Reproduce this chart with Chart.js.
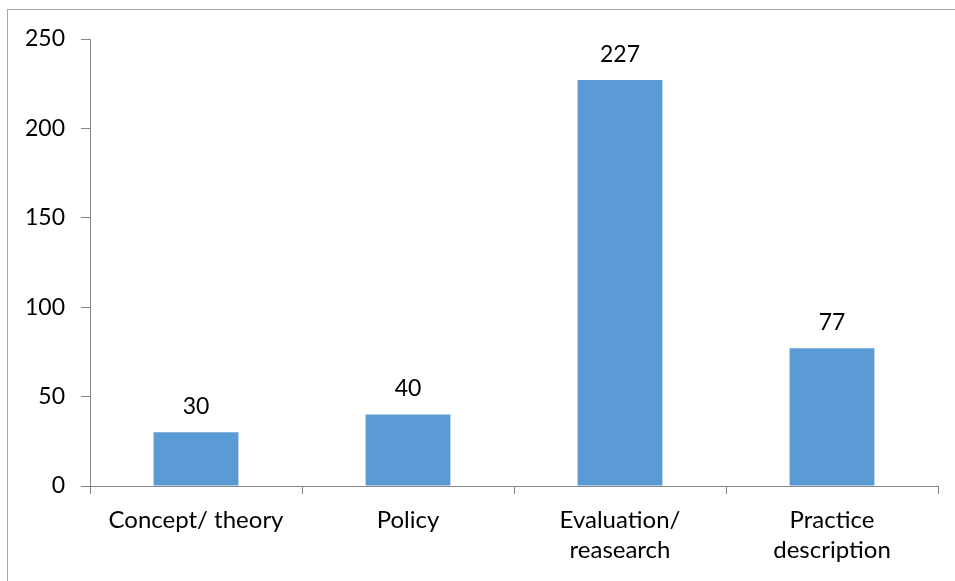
<!DOCTYPE html>
<html>
<head>
<meta charset="utf-8">
<script src="https://cdn.jsdelivr.net/npm/chart.js@4/dist/chart.umd.min.js"></script>
<style>
  html, body { margin: 0; padding: 0; background: #fff; overflow: hidden; }
  #wrap { position: relative; width: 955px; height: 581px; }
  #frame { position: absolute; left: 7px; top: 9px; width: 1000px; height: 700px; border: 1.5px solid #a6a6a6; box-sizing: border-box; pointer-events: none; }
  canvas { position: absolute; left: 0; top: 0; }
</style>
</head>
<body>
<div id="wrap">
  <div id="frame"></div>
  <canvas id="c" width="955" height="581"></canvas>
</div>
<script>
const categories = [["Concept/ theory"], ["Policy"], ["Evaluation/", "reasearch"], ["Practice", "description"]];
const values = [30, 40, 227, 77];
const yTicks = [0, 50, 100, 150, 200, 250];

const FONT = "Lato, 'Open Sans', sans-serif";

const valueLabels = {
  id: 'valueLabels',
  afterDatasetsDraw(chart) {
    const ctx = chart.ctx;
    const meta = chart.getDatasetMeta(0);
    ctx.save();
    ctx.fillStyle = '#000';
    ctx.font = '23px ' + FONT;
    ctx.textAlign = 'center';
    ctx.textBaseline = 'middle';
    meta.data.forEach((bar, i) => {
      ctx.fillText(String(values[i]), bar.x, bar.y - 26);
    });
    ctx.restore();
  }
};

new Chart(document.getElementById('c'), {
  type: 'bar',
  data: {
    labels: categories,
    datasets: [{
      data: values,
      backgroundColor: '#5B9BD5',
      borderWidth: 0,
      categoryPercentage: 1.0,
      barPercentage: 0.4
    }]
  },
  options: {
    responsive: false,
    animation: false,
    layout: { padding: { top: 39, right: 17, bottom: 0, left: 0 } },
    plugins: { legend: { display: false }, tooltip: { enabled: false } },
    scales: {
      x: {
        offset: true,
        grid: { display: true, drawOnChartArea: false, drawTicks: true, tickLength: 8, color: '#868686', offset: true },
        border: { display: true, color: '#868686', width: 1 },
        ticks: { color: '#000', font: { family: FONT, size: 24, lineHeight: 1.25 }, padding: 11, maxRotation: 0, autoSkip: false },
        afterFit(scale) { scale.height = 95; }
      },
      y: {
        min: 0, max: 250,
        afterBuildTicks(scale) { scale.ticks = yTicks.map(v => ({ value: v })); },
        grid: { display: true, drawOnChartArea: false, drawTicks: true, tickLength: 9, color: '#868686' },
        border: { display: true, color: '#868686', width: 1 },
        ticks: { color: '#000', font: { family: FONT, size: 23 }, padding: 16 },
        afterFit(scale) { scale.width = 90; }
      }
    }
  },
  plugins: [valueLabels]
});
</script>
</body>
</html>
